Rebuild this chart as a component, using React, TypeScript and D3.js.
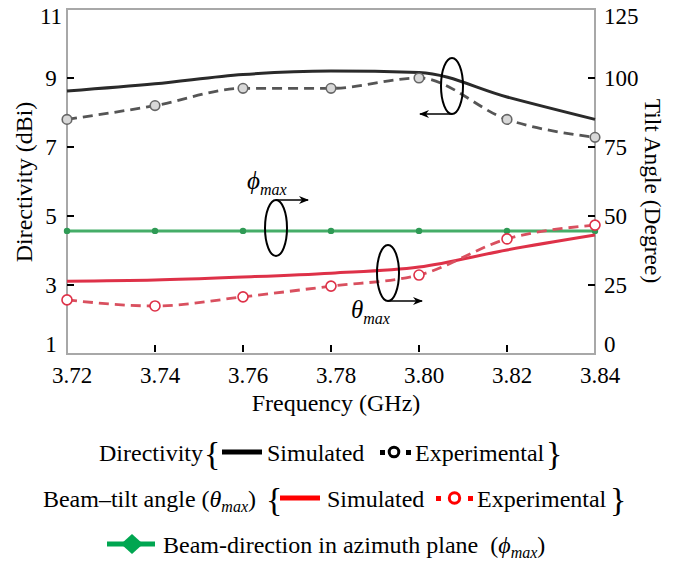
import React, { useLayoutEffect, useRef } from "react";
import * as d3 from "d3";

const freqs = [3.72, 3.74, 3.76, 3.78, 3.8, 3.82, 3.84];
const dirSim = [8.62, 8.83, 9.1, 9.2, 9.16, 8.45, 7.8];
const dirExp = [7.8, 8.2, 8.7, 8.7, 9.0, 7.8, 7.28];
const tiltSim = [26.4, 26.8, 27.9, 29.3, 31.5, 37.7, 43.1];
const tiltExp = [19.6, 17.4, 20.7, 24.6, 28.6, 41.7, 46.7];
const phiMax = [44.6, 44.6, 44.6, 44.6, 44.6, 44.6, 44.6];
const xTickLabels = ["3.72", "3.74", "3.76", "3.78", "3.80", "3.82", "3.84"];
const leftTicks = [1, 3, 5, 7, 9, 11];
const rightTicks = [0, 25, 50, 75, 100, 125];

const W = 689;
const H = 564;
const L = 67, R = 595, T = 9, B = 354;
const SERIF = "'Liberation Serif', 'Times New Roman', Tinos, serif";

export default function App() {
  const ref = useRef<SVGSVGElement>(null);

  useLayoutEffect(() => {
    const svg = ref.current;
    if (!svg) return;
    svg.style.setProperty("font-family", SERIF, "important");
    svg.querySelectorAll("text, tspan").forEach((el) => {
      (el as SVGElement).style.setProperty("font-family", SERIF, "important");
    });
  }, []);

  const x = d3.scaleLinear().domain([3.72, 3.84]).range([L, R]);
  const yL = d3.scaleLinear().domain([1, 11]).range([B, T]);
  const yR = d3.scaleLinear().domain([0, 125]).range([B, T]);

  const lineL = d3
    .line<number>()
    .x((_, i) => x(freqs[i]))
    .y((d) => yL(d))
    .curve(d3.curveMonotoneX);
  const lineR = d3
    .line<number>()
    .x((_, i) => x(freqs[i]))
    .y((d) => yR(d))
    .curve(d3.curveMonotoneX);

  const blk = "#2a2a2a";
  const blkDash = "#555";
  const red = "#de3148";
  const redDash = "#d9505f";
  const grn = "#45ad68";

  return (
    <svg
      ref={ref}
      id="chart-svg"
      width={W}
      height={H}
      fontFamily={SERIF}
      style={{ position: "absolute", left: 0, top: 0 }}
    >
      <style>{`#chart-svg, #chart-svg text, #chart-svg tspan { font-family: 'Liberation Serif', 'Times New Roman', Tinos, serif !important; }`}</style>
      <defs>
        <marker id="arr" viewBox="0 0 10 10" refX="9" refY="5" markerWidth="10" markerHeight="10" markerUnits="userSpaceOnUse" orient="auto">
          <path d="M0,1 L10,5 L0,9 L3,5 Z" fill="#000" />
        </marker>
      </defs>
      <rect x={0} y={0} width={W} height={H} fill="#fff" />

      {/* plot frame */}
      <rect x={L} y={T} width={R - L} height={B - T} fill="none" stroke="#a8a8a8" strokeWidth={2} />

      {/* ticks */}
      {leftTicks.slice(1, -1).map((t) => (
        <line key={"lt" + t} x1={L} x2={L + 7} y1={yL(t)} y2={yL(t)} stroke="#000" strokeWidth={2} />
      ))}
      {rightTicks.slice(1, -1).map((t) => (
        <line key={"rt" + t} x1={R - 7} x2={R} y1={yR(t)} y2={yR(t)} stroke="#000" strokeWidth={2} />
      ))}
      {freqs.slice(1, -1).map((f) => (
        <line key={"bt" + f} x1={x(f)} x2={x(f)} y1={B - 9} y2={B - 2} stroke="#000" strokeWidth={2} />
      ))}

      {/* tick labels */}
      {leftTicks.map((t, i) => (
        <text
          key={"ll" + t}
          x={51}
          y={yL(t) + 8 + (i === 0 ? -10 : i === leftTicks.length - 1 ? 7 : 0)}
          fontSize={23}
          textAnchor="middle"
        >
          {t}
        </text>
      ))}
      {rightTicks.map((t, i) => (
        <text
          key={"rl" + t}
          x={604}
          y={yR(t) + 8 + (i === 0 ? -10 : i === rightTicks.length - 1 ? 7 : 0)}
          fontSize={23}
          textAnchor="start"
        >
          {t}
        </text>
      ))}
      {freqs.map((f, i) => (
        <text key={"xl" + f} x={x(f) + 5} y={383} fontSize={23} textAnchor="middle">
          {xTickLabels[i]}
        </text>
      ))}

      {/* axis titles */}
      <text x={336} y={411} fontSize={24} textAnchor="middle">Frequency (GHz)</text>
      <text transform={`translate(32,182) rotate(-90)`} fontSize={24} textAnchor="middle">Directivity (dBi)</text>
      <text transform={`translate(645,191) rotate(90)`} fontSize={23.5} textAnchor="middle">Tilt Angle (Degree)</text>

      {/* series */}
      <path d={lineR(phiMax) || ""} fill="none" stroke={grn} strokeWidth={3} />
      {phiMax.map((v, i) => (
        <circle key={"g" + i} cx={x(freqs[i])} cy={yR(v)} r={3.2} fill="#2f9a55" />
      ))}

      <path d={lineR(tiltSim) || ""} fill="none" stroke={red} strokeWidth={3} />
      <path d={lineR(tiltExp) || ""} fill="none" stroke={redDash} strokeWidth={2.8} strokeDasharray="10 6" />
      {tiltExp.map((v, i) => (
        <circle key={"re" + i} cx={x(freqs[i])} cy={yR(v)} r={5} fill="#fff" stroke={red} strokeWidth={1.6} />
      ))}

      <path d={lineL(dirSim) || ""} fill="none" stroke={blk} strokeWidth={3} />
      <path d={lineL(dirExp) || ""} fill="none" stroke={blkDash} strokeWidth={2.8} strokeDasharray="10 6" />
      {dirExp.map((v, i) => (
        <circle key={"be" + i} cx={x(freqs[i])} cy={yL(v)} r={4.8} fill="#d8d8d8" stroke="#666" strokeWidth={1.6} />
      ))}

      {/* annotations */}
      <ellipse cx={452} cy={86} rx={11} ry={28} fill="none" stroke="#000" strokeWidth={2} />
      <line x1={452} y1={114} x2={420} y2={114} stroke="#000" strokeWidth={1.5} markerEnd="url(#arr)" />

      <ellipse cx={276} cy={228} rx={11} ry={28} fill="none" stroke="#000" strokeWidth={2} />
      <line x1={276} y1={200} x2={308} y2={200} stroke="#000" strokeWidth={1.5} markerEnd="url(#arr)" />
      <text x={247} y={189} fontSize={25} fontStyle="italic">
        ϕ<tspan fontSize={16} dy={6}>max</tspan>
      </text>

      <ellipse cx={388} cy={273} rx={11} ry={28} fill="none" stroke="#000" strokeWidth={2} />
      <line x1={388} y1={301} x2={422} y2={301} stroke="#000" strokeWidth={1.5} markerEnd="url(#arr)" />
      <text x={351} y={318} fontSize={25} fontStyle="italic">
        θ<tspan fontSize={16} dy={6}>max</tspan>
      </text>

      {/* legend row 1 */}
      <text x={203} y={461} fontSize={24} textAnchor="end">Directivity</text>
      <text x={204} y={465} fontSize={34}>{"{"}</text>
      <line x1={222} x2={262} y1={452} y2={452} stroke="#000" strokeWidth={5} />
      <text x={267} y={461} fontSize={24}>Simulated</text>
      <rect x={380} y={450} width={5} height={5} fill="#000" />
      <circle cx={394} cy={452} r={4.8} fill="#fff" stroke="#000" strokeWidth={3} />
      <rect x={406} y={450} width={5} height={5} fill="#000" />
      <text x={415} y={461} fontSize={24}>Experimental</text>
      <text x={546} y={465} fontSize={34}>{"}"}</text>

      {/* legend row 2 */}
      <text x={256} y={507} fontSize={24} textAnchor="end">
        Beam–tilt angle (<tspan fontStyle="italic">θ</tspan>
        <tspan fontStyle="italic" fontSize={16} dy={5}>max</tspan>
        <tspan dy={-5}>)</tspan>
      </text>
      <text x={266} y={511} fontSize={34}>{"{"}</text>
      <line x1={280} x2={320} y1={498} y2={498} stroke="#ff0000" strokeWidth={5} />
      <text x={327} y={507} fontSize={24}>Simulated</text>
      <rect x={436} y={496} width={5} height={5} fill="#ff0000" />
      <circle cx={454.5} cy={498} r={5.2} fill="#fff" stroke="#ff0000" strokeWidth={3} />
      <rect x={468} y={496} width={5} height={5} fill="#ff0000" />
      <text x={477} y={507} fontSize={24}>Experimental</text>
      <text x={610} y={511} fontSize={34}>{"}"}</text>

      {/* legend row 3 */}
      <line x1={107} x2={155} y1={544} y2={544} stroke="#00a651" strokeWidth={5} />
      <path d="M132,534 L143,544 L132,554 L121,544 Z" fill="#00a651" />
      <text x={163} y={553} fontSize={24}>
        {"Beam-direction in azimuth plane\u00a0 ("}<tspan fontStyle="italic">ϕ</tspan>
        <tspan fontStyle="italic" fontSize={16} dy={5}>max</tspan>
        <tspan dy={-5}>)</tspan>
      </text>
    </svg>
  );
}
